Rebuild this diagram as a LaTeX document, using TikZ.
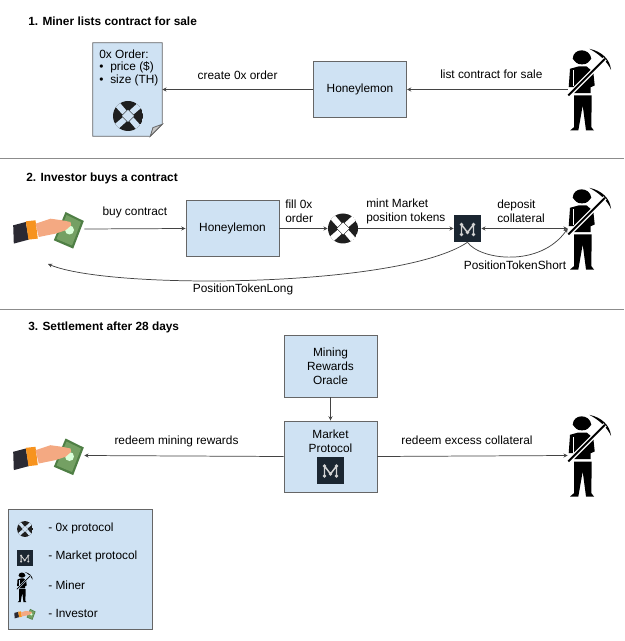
\documentclass[tikz,border=0pt]{standalone}
\usepackage{fontspec}
\setmainfont{Liberation Sans}
\usetikzlibrary{arrows.meta}
\usetikzlibrary{positioning}

\definecolor{boxblue}{HTML}{CFE2F3}
\definecolor{boxline}{HTML}{666666}
\definecolor{edgeline}{HTML}{434343}
\definecolor{sepline}{HTML}{8C8C8C}
\definecolor{marketdark}{HTML}{1B2631}
\definecolor{sleeve}{HTML}{2B2A33}
\definecolor{cuff}{HTML}{F7931E}
\definecolor{skin}{HTML}{F4A982}
\definecolor{billdark}{HTML}{4F7F45}
\definecolor{billlight}{HTML}{74A063}

\tikzset{
  box/.style={draw=boxline, line width=.7pt, fill=boxblue, align=center, inner sep=0pt, font=\fontsize{8.9}{10.5}\selectfont},
  honeybox/.style={box, minimum width=69.75pt, minimum height=42pt},
  protobox/.style={box, minimum width=69.75pt},
  txt/.style={inner sep=0pt, align=left, font=\fontsize{8.9}{10.5}\selectfont},
  title/.style={inner sep=0pt, anchor=west, font=\fontsize{8.9}{10.5}\selectfont\bfseries},
  minerbox/.style={inner sep=0pt, minimum width=21pt, minimum height=61.5pt},
  handbox/.style={inner sep=0pt, minimum width=53.25pt, minimum height=27.75pt},
  logobox/.style={inner sep=0pt, minimum width=22.5pt, minimum height=22.5pt},
  marketbox/.style={inner sep=0pt, minimum width=20.25pt, minimum height=20.25pt},
  edge/.style={draw=edgeline, line width=.55pt, >={Stealth[length=3.2pt,width=3pt]}},
  sep/.style={draw=sepline, line width=1pt},
  % the four icons
  pics/zerox/.style={code={
    \begin{scope}
      \clip (0,0) circle (15);
      \fill[black!88] (0,0) circle (15);
      \fill[#1] (6,0) -- (0,6) -- (-6,0) -- (0,-6) -- cycle;
      \foreach \a in {0,90,180,270}
        \fill[#1, rotate=\a] (5.5,-1.5) -- (16,-10.5) -- (12.5,-15.5) -- (1.5,-5.5) -- cycle;
    \end{scope}
  }},
  pics/marketlogo/.style={code={
    \fill[marketdark] (-13.5,-13.5) rectangle (13.5,13.5);
    \draw[gray!35, line width=#1, line join=round] (-6,6) -- (-6,-4) -- (0,4) -- (6,-4) -- (6,6);
    \foreach \p in {(-6,6),(-6,-4),(0,4),(6,-4),(6,6)}
      \fill[gray!35] \p circle (1.8);
  }},
  pics/miner/.style={code={
    \fill[black] (7.3,-40.7) .. controls (20,-38) and (28,-30) .. (29,-19.7) .. controls (25,-28) and (18,-35) .. cycle;
    \fill[black] (-9.3,-30.7) .. controls (-9,-42) and (8,-42) .. (9.3,-30.7) -- (6,-27) .. controls (4,-24.5) and (-4,-24.5) .. (-6,-27) -- cycle;
    \fill[black] (-12,-20.7) -- (-3.7,-23) -- (4.7,-23) -- (11.3,-17.3) -- (12.7,-4) -- (8.7,-2.3) -- (8.7,3.7) -- (-8,3.7) -- (-8.7,-2.3) -- (-13.3,-2.3) -- cycle;
    \fill[black] (-8,6) -- (9.7,6) -- (9.3,37.7) -- (12,41) -- (4,41) -- (.7,16) -- (-3.7,41) -- (-12,41) -- (-8,37.7) -- cycle;
    \fill[#1] (-8.6,-19) -- (-7.6,-19) -- (-7.6,-3) -- (-8.6,-3) -- cycle;
    \fill[#1] (-12.1,7.6) -- (24.6,-29.1) -- (21.4,-32.3) -- (-15.3,4.4) -- cycle;
    \fill[black] (-13,6.7) -- (23.7,-30) -- (22.3,-31.4) -- (-14.4,5.3) -- cycle;
  }},
  pics/hand/.style={code={
    \fill[billdark] (17,-17) -- (35.3,-8) -- (24.7,19.6) -- (5.3,11.3) -- cycle;
    \fill[billlight] (18,-14) -- (32.5,-7) -- (23.5,16.5) -- (8,10) -- cycle;
    \fill[white!85!green] (21,1) circle (4.5);
    \fill[sleeve] (-35.3,-3.7) -- (-22.7,-7) -- (-19.7,10.6) -- (-34.7,14.6) -- cycle;
    \fill[cuff] (-22.7,-7.7) -- (-13,-8.7) -- (-10.7,9.6) -- (-20,10.6) -- cycle;
    \fill[skin] (-13,-5.3) -- (2,-10.3) -- (13.7,-8.7) -- (22,-7) -- (22.7,-3.7) -- (17,1.3) -- (7,4.6) -- (-9.7,8) -- cycle;
  }},
  pics/zerox/.default=white,
  pics/miner/.default=white,
  pics/marketlogo/.default=1.1pt
}

\begin{document}
\begin{tikzpicture}[x=.75pt, y=-.75pt]
\useasboundingbox (0,0) rectangle (624,641);

% Define nodes
\node[title] (titleA) at (28,21) {1. Miner lists contract for sale};
\node[title] (titleB) at (26,178) {2. Investor buys a contract};
\node[title] (titleC) at (28,327) {3. Settlement after 28 days};

\coordinate (sepAl) at (0,158.5);
\coordinate (sepAr) at (624,158.5);
\coordinate (sepBl) at (0,309.5);
\coordinate (sepBr) at (624,309.5);

% step 1
\node[inner sep=0pt, minimum width=51.75pt, minimum height=69.75pt] (order) at (127.5,89.5) {};
\draw[boxline, line width=.7pt, fill=boxblue] (order.north west) -- (order.north east) -- ([yshift=9pt]order.south east) -- ([xshift=-9pt]order.south east) -- (order.south west) -- cycle;
\draw[boxline, line width=.6pt, fill=gray!45] ([yshift=9pt]order.south east) -- ([xshift=-9pt]order.south east) -- ([xshift=-7pt,yshift=6.5pt]order.south east) -- cycle;
\node[txt, anchor=west, font=\fontsize{8.9}{9.4}\selectfont] (ordertext) at (99,67.5) {0x Order:\\\makebox[8.25pt][l]{\textbullet}price (\$)\\\makebox[8.25pt][l]{\textbullet}size (TH)};
\node[logobox] (zeroxA) at (128,116) {};
\pic at (zeroxA) {zerox=boxblue};
\node[honeybox] (honeyA) at (360,89.5) {Honeylemon};
\node[minerbox] (minerA) at (582,89.5) {};
\pic at (minerA) {miner};

% step 2
\node[handbox] (handB) at (48.5,229) {};
\pic at (handB) {hand};
\node[honeybox] (honeyB) at (232.5,228.5) {Honeylemon};
\node[logobox] (zeroxB) at (343,228.5) {};
\pic at (zeroxB) {zerox};
\node[marketbox] (marketB) at (467.5,228.5) {};
\pic at (marketB) {marketlogo};
\node[minerbox] (minerB) at (582,228.5) {};
\pic at (minerB) {miner};
\coordinate (longend) at (48,264);

% step 3
\node[box, minimum width=69.75pt, minimum height=46.5pt] (oracle) at (330.5,366) {Mining\\Rewards\\Oracle};
\node[protobox, minimum height=53.25pt] (protocol) at (330.5,456.5) {};
\node[txt, align=center] (protocoltext) at (330.5,441) {Market\\Protocol};
\node[marketbox] (marketC) at (330.5,470) {};
\pic at (marketC) {marketlogo};
\node[handbox] (handC) at (48.5,455.5) {};
\pic at (handC) {hand};
\node[minerbox] (minerC) at (582,455.5) {};
\pic at (minerC) {miner};

% legend
\node[box, minimum width=108pt, minimum height=90pt] (legend) at (80,569) {};
\node[inner sep=0pt, minimum width=12pt, minimum height=12pt] (legzerox) at (25,529) {};
\pic[scale=.53] at (legzerox) {zerox=boxblue};
\node[inner sep=0pt, minimum width=12pt, minimum height=12pt] (legmarket) at (24.7,558) {};
\pic[scale=.6] at (legmarket) {marketlogo=.6pt};
\node[inner sep=0pt, minimum width=8pt, minimum height=23pt] (legminer) at (22,587) {};
\pic[scale=.37] at (legminer) {miner=boxblue};
\node[inner sep=0pt, minimum width=16pt, minimum height=8pt] (leghand) at (25,614) {};
\pic[scale=.3] at (leghand) {hand};
\node[txt, anchor=west] (legzeroxtext) at (48,528.5) {- 0x protocol};
\node[txt, anchor=west] (legmarkettext) at (48,556.5) {- Market protocol};
\node[txt, anchor=west] (legminertext) at (48,585) {- Miner};
\node[txt, anchor=west] (leghandtext) at (48,613) {- Investor};

% Edges
\draw[sep] (sepAl) -- (sepAr);
\draw[sep] (sepBl) -- (sepBr);
\draw[edge, ->] (minerA.west) -- node[txt, pos=.475, above=8pt] (listlabel) {list contract for sale} (honeyA.east);
\draw[edge, ->] (honeyA.west) -- node[txt, above=7pt] (createlabel) {create 0x order} (order.east);
\draw[edge, ->] (handB.east) -- node[txt, above=7.5pt] (buylabel) {buy contract} (honeyB.west);
\draw[edge, ->] (honeyB.east) -- (zeroxB.west);
\draw[edge, ->] (zeroxB.east) -- (marketB.west);
\draw[edge, <->] (marketB.east) -- (minerB.west);
\draw[edge, ->] (marketB.south) .. controls (480,260) and (540,268) .. (minerB.west);
\draw[edge, ->] (marketB.south) .. controls (400,288) and (110,290) .. (longend);
\draw[edge, ->] (oracle.south) -- (protocol.north);
\draw[edge, ->] (protocol.west) -- (handC.east);
\draw[edge, ->] (protocol.east) -- (minerC.west);

% Edge labels
\node[txt, anchor=west] (filllabel) at (285,211.5) {fill 0x\\order};
\node[txt, anchor=west] (mintlabel) at (366,211.5) {mint Market\\position tokens};
\node[txt, anchor=west] (depositlabel) at (497,211.5) {deposit\\collateral};
\node[txt] (shortlabel) at (515,265) {PositionTokenShort};
\node[txt] (longlabel) at (243,289) {PositionTokenLong};
\node[txt] (redeemlabel) at (176.5,441) {redeem mining rewards};
\node[txt] (excesslabel) at (467,440) {redeem excess collateral};
\end{tikzpicture}
\end{document}
